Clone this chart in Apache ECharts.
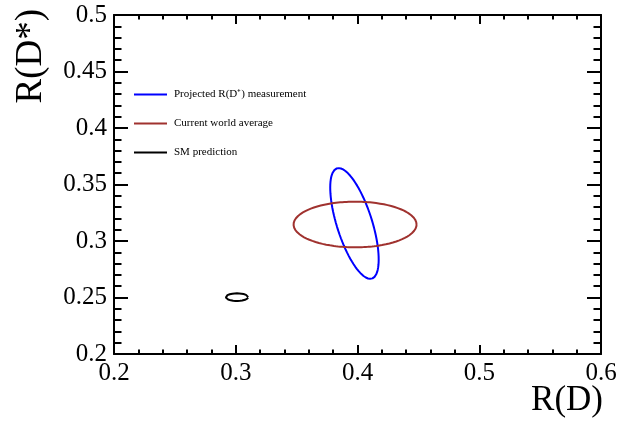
<!DOCTYPE html>
<html>
<head>
<meta charset="utf-8">
<script src="https://cdn.jsdelivr.net/npm/echarts@6/dist/echarts.min.js"></script>
<style>html,body{margin:0;padding:0;background:#fff}#c{width:631px;height:422px}</style>
</head>
<body>
<div id="c"></div>
<script>
// ---- Data ----
var seriesNames = ['Projected R(D\u207A) measurement', 'Current world average', 'SM prediction'];
var seriesColors = ['#0000ff', '#a0322f', '#000000'];
// ellipse parameters: [centre R(D), centre R(D*), half-extent R(D), half-extent R(D*), correlation]
var projected = [0.3975, 0.3155, 0.0199, 0.0490, -0.65];
var worldAverage = [0.3980, 0.3146, 0.0505, 0.0202, 0.0];
var smPrediction = [0.3010, 0.2503, 0.0092, 0.0034, 0.0];
var xTickLabels = ['0.2', '0.3', '0.4', '0.5', '0.6'];
var yTickLabels = ['0.2', '0.25', '0.3', '0.35', '0.4', '0.45', '0.5'];

function contour(p) {
  var pts = [], n = 180;
  var r = p[4], q = Math.sqrt(1 - r * r);
  for (var i = 0; i <= n; i++) {
    var t = 2 * Math.PI * i / n;
    pts.push([p[0] + p[2] * Math.cos(t), p[1] + p[3] * (r * Math.cos(t) + q * Math.sin(t))]);
  }
  return pts;
}

var font = 'Liberation Serif, Times New Roman, serif';
var chart = echarts.init(document.getElementById('c'));

function xLab(v) { var i = Math.round((v - 0.2) / 0.1); return xTickLabels[i] || ''; }
function yLab(v) { var i = Math.round((v - 0.2) / 0.05); return yTickLabels[i] || ''; }

var axCommon = {
  type: 'value',
  axisLine: { show: true, lineStyle: { color: '#000', width: 2 } },
  splitLine: { show: false },
  minorSplitLine: { show: false }
};
var xTick = { inside: true, length: 9, lineStyle: { color: '#000', width: 2 } };
var xMinor = { show: true, splitNumber: 5, length: 4.5, lineStyle: { color: '#000', width: 2 } };
var yTick = { inside: true, length: 14, lineStyle: { color: '#000', width: 2 } };
var yMinor = { show: true, splitNumber: 5, length: 7.5, lineStyle: { color: '#000', width: 2 } };

chart.setOption({
  animation: false,
  backgroundColor: '#fff',
  grid: { left: 114, right: 30, top: 15, bottom: 68 },
  xAxis: [
    Object.assign({}, axCommon, {
      position: 'bottom', min: 0.2, max: 0.6, interval: 0.1,
      axisTick: xTick, minorTick: xMinor,
      axisLabel: { formatter: xLab, color: '#000', fontFamily: font, fontSize: 25, margin: 7 }
    }),
    Object.assign({}, axCommon, {
      position: 'top', min: 0.2, max: 0.6, interval: 0.1,
      axisTick: xTick, minorTick: xMinor,
      axisLabel: { show: false }
    })
  ],
  yAxis: [
    Object.assign({}, axCommon, {
      position: 'left', min: 0.2, max: 0.5, interval: 0.05,
      axisTick: yTick, minorTick: yMinor,
      axisLabel: { formatter: yLab, color: '#000', fontFamily: font, fontSize: 25, margin: 7, padding: [6, 0, 0, 0] }
    }),
    Object.assign({}, axCommon, {
      position: 'right', min: 0.2, max: 0.5, interval: 0.05,
      axisTick: yTick, minorTick: yMinor,
      axisLabel: { show: false }
    })
  ],
  legend: {
    orient: 'vertical', left: 134, top: 89, padding: 0, itemWidth: 33, itemHeight: 2, itemGap: 18,
    icon: 'rect',
    textStyle: { fontFamily: font, fontSize: 11, color: '#000', padding: [0, 0, 0, 2] },
    data: seriesNames
  },
  graphic: [
    { type: 'text', x: 31, y: 9, rotation: Math.PI / 2,
      style: { text: 'R(D*)', font: '37px ' + font, fill: '#000', align: 'right', verticalAlign: 'middle' } },
    { type: 'text', x: 603, y: 401,
      style: { text: 'R(D)', font: '35px ' + font, fill: '#000', align: 'right', verticalAlign: 'middle' } }
  ],
  series: [
    { name: seriesNames[0], type: 'line', data: contour(projected), showSymbol: false, symbol: 'none',
      lineStyle: { color: seriesColors[0], width: 2 }, itemStyle: { color: seriesColors[0] } },
    { name: seriesNames[1], type: 'line', data: contour(worldAverage), showSymbol: false, symbol: 'none',
      lineStyle: { color: seriesColors[1], width: 2 }, itemStyle: { color: seriesColors[1] } },
    { name: seriesNames[2], type: 'line', data: contour(smPrediction), showSymbol: false, symbol: 'none',
      lineStyle: { color: seriesColors[2], width: 2 }, itemStyle: { color: seriesColors[2] } }
  ]
});
</script>
</body>
</html>
